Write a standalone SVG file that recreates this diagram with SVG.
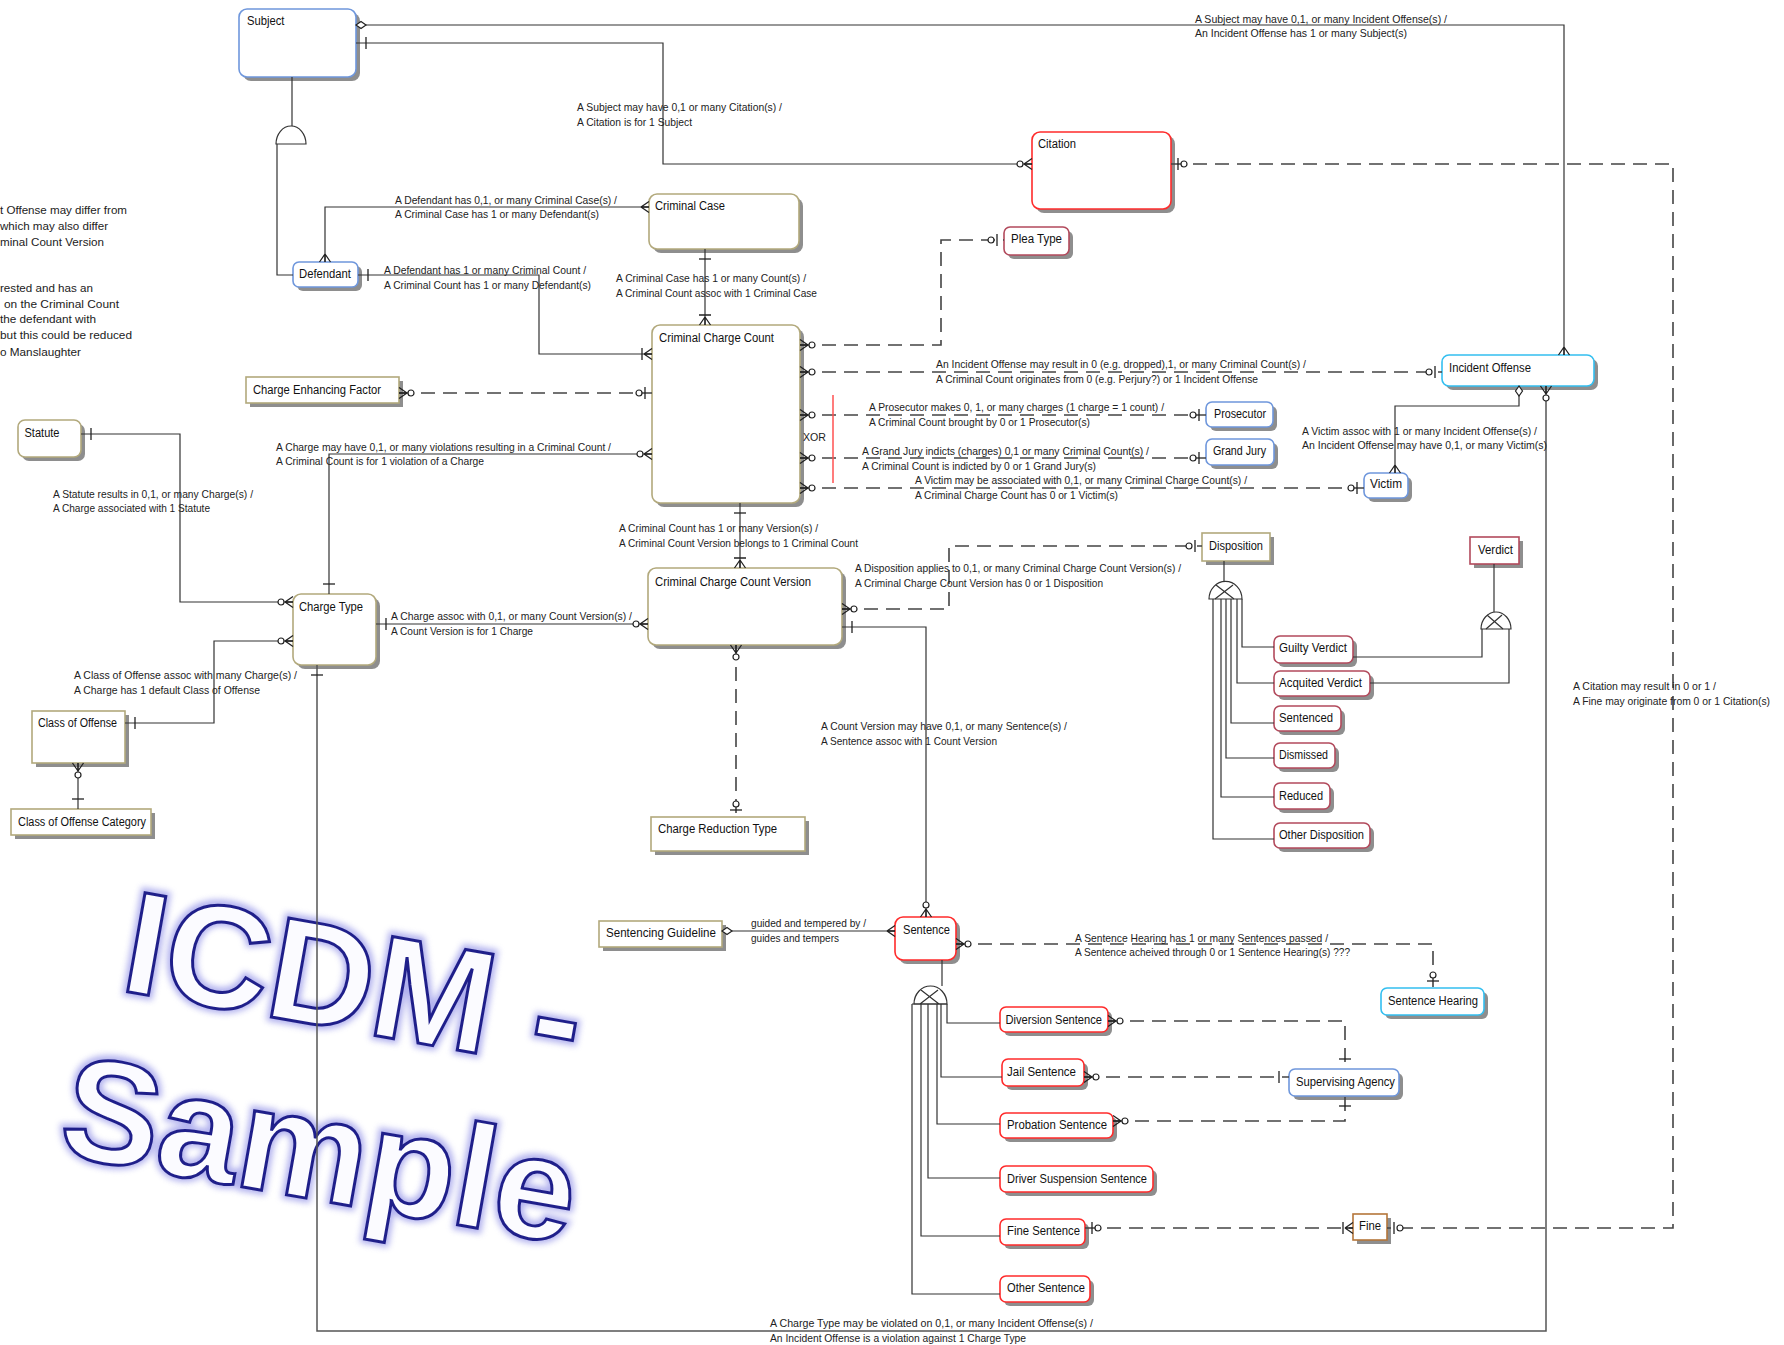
<svg xmlns="http://www.w3.org/2000/svg" width="1784" height="1345" viewBox="0 0 1784 1345">
<style>
.box{fill:#fff;stroke-width:1.6}
.sh{fill:#8e8e8e}
.blue{stroke:#6f97dc}
.cyan{stroke:#33bff0}
.gold{stroke:#b2a97c}
.red{stroke:#ff2b2b}
.maroon{stroke:#b24a5c}
.brown{stroke:#b5763a}
.lbl{font-family:"Liberation Sans",Arial,sans-serif;font-size:12px;fill:#111}
.rel{font-family:"Liberation Sans",Arial,sans-serif;font-size:10.5px;fill:#222}
.note{font-family:"Liberation Sans",Arial,sans-serif;font-size:11.5px;fill:#222}
.ln{fill:none;stroke:#333;stroke-width:1.2}
.gl{fill:none;stroke:#555;stroke-width:1.5}
.dash{fill:none;stroke:#444;stroke-width:1.6;stroke-dasharray:14 8}
.mk{fill:none;stroke:#222;stroke-width:1.3}
.mkc{fill:#fff;stroke:#222;stroke-width:1.2}
.sym{fill:#fff;stroke:#333;stroke-width:1.2}
.wm{font-family:"Liberation Sans",Arial,sans-serif;font-weight:bold;font-size:146px;fill:#fbfbff;stroke:#1f1f8a;stroke-width:3}
.wmg{font-family:"Liberation Sans",Arial,sans-serif;font-weight:bold;font-size:146px;fill:none;stroke:#7070e0;stroke-width:9;opacity:.55}
</style>
<defs>
<filter id="glow" x="-10%" y="-30%" width="120%" height="160%"><feGaussianBlur stdDeviation="3"/></filter>
<marker id="mM0" viewBox="0 0 24 16" refX="20" refY="8" markerWidth="24" markerHeight="16" markerUnits="userSpaceOnUse" orient="auto-start-reverse"><path class="mk" d="M12,8 L20,2.5 M12,8 L20,8 M12,8 L20,13.5"/><circle class="mkc" cx="8" cy="8" r="3"/></marker>
<marker id="mM1" viewBox="0 0 24 16" refX="20" refY="8" markerWidth="24" markerHeight="16" markerUnits="userSpaceOnUse" orient="auto-start-reverse"><path class="mk" d="M12,8 L20,2.5 M12,8 L20,8 M12,8 L20,13.5 M10,2 L10,14"/></marker>
<marker id="mMany" viewBox="0 0 24 16" refX="20" refY="8" markerWidth="24" markerHeight="16" markerUnits="userSpaceOnUse" orient="auto-start-reverse"><path class="mk" d="M12,8 L20,2.5 M12,8 L20,8 M12,8 L20,13.5"/></marker>
<marker id="mOne" viewBox="0 0 24 16" refX="20" refY="8" markerWidth="24" markerHeight="16" markerUnits="userSpaceOnUse" orient="auto-start-reverse"><path class="mk" d="M10,2 L10,14"/></marker>
<marker id="mZO" viewBox="0 0 24 16" refX="20" refY="8" markerWidth="24" markerHeight="16" markerUnits="userSpaceOnUse" orient="auto-start-reverse"><path class="mk" d="M13,2 L13,14"/><circle class="mkc" cx="7" cy="8" r="3"/></marker>
<marker id="mDia" viewBox="0 0 24 16" refX="20" refY="8" markerWidth="24" markerHeight="16" markerUnits="userSpaceOnUse" orient="auto-start-reverse"><path class="mkc" d="M20,8 L15,4.5 L10,8 L15,11.5 Z"/></marker>
</defs>
<rect width="1784" height="1345" fill="#fff"/>

<g id="watermark">
<g transform="translate(118,990) rotate(10)"><text class="wmg" filter="url(#glow)">ICDM -</text><text class="wm">ICDM -</text></g>
<g transform="translate(56,1154) rotate(10)"><text class="wmg" filter="url(#glow)">Sample</text><text class="wm">Sample</text></g>
</g>

<g id="notes">
<text class="note" x="0" y="214" textLength="127" lengthAdjust="spacingAndGlyphs">t Offense may differ from</text>
<text class="note" x="0" y="230" textLength="108" lengthAdjust="spacingAndGlyphs">which may also differ</text>
<text class="note" x="0" y="246" textLength="104" lengthAdjust="spacingAndGlyphs">minal Count Version</text>
<text class="note" x="0" y="292" textLength="93" lengthAdjust="spacingAndGlyphs">rested and has an</text>
<text class="note" x="4" y="308" textLength="115" lengthAdjust="spacingAndGlyphs">on the Criminal Count</text>
<text class="note" x="0" y="323" textLength="96" lengthAdjust="spacingAndGlyphs">the defendant with</text>
<text class="note" x="0" y="339" textLength="132" lengthAdjust="spacingAndGlyphs">but this could be reduced</text>
<text class="note" x="0" y="356" textLength="81" lengthAdjust="spacingAndGlyphs">o Manslaughter</text>
</g>

<g id="subject"><rect class="sh" x="243" y="13" width="117" height="68" rx="8"/><rect class="box blue" x="239" y="9" width="117" height="68" rx="8"/><text class="lbl" x="247" y="25" textLength="37.5" lengthAdjust="spacingAndGlyphs">Subject</text></g>
<g id="defendant"><rect class="sh" x="297" y="266" width="65" height="25" rx="6"/><rect class="box blue" x="293" y="262" width="65" height="25" rx="6"/><text class="lbl" x="299" y="278" textLength="52" lengthAdjust="spacingAndGlyphs">Defendant</text></g>
<g id="criminal-case"><rect class="sh" x="653" y="198" width="150" height="55" rx="8"/><rect class="box gold" x="649" y="194" width="150" height="55" rx="8"/><text class="lbl" x="655" y="210" textLength="70" lengthAdjust="spacingAndGlyphs">Criminal Case</text></g>
<g id="citation"><rect class="sh" x="1036" y="136" width="139" height="77" rx="8"/><rect class="box red" x="1032" y="132" width="139" height="77" rx="8"/><text class="lbl" x="1038" y="148" textLength="38" lengthAdjust="spacingAndGlyphs">Citation</text></g>
<g id="plea-type"><rect class="sh" x="1008" y="231" width="65" height="28" rx="6"/><rect class="box maroon" x="1004" y="227" width="65" height="28" rx="6"/><text class="lbl" x="1011" y="243" textLength="51" lengthAdjust="spacingAndGlyphs">Plea Type</text></g>
<g id="criminal-charge-count"><rect class="sh" x="656" y="329" width="148" height="178" rx="8"/><rect class="box gold" x="652" y="325" width="148" height="178" rx="8"/><text class="lbl" x="659" y="342" textLength="115" lengthAdjust="spacingAndGlyphs">Criminal Charge Count</text></g>
<g id="incident-offense"><rect class="sh" x="1446" y="359" width="152" height="31" rx="7"/><rect class="box cyan" x="1442" y="355" width="152" height="31" rx="7"/><text class="lbl" x="1449" y="372" textLength="82" lengthAdjust="spacingAndGlyphs">Incident Offense</text></g>
<g id="prosecutor"><rect class="sh" x="1210" y="406" width="67" height="25" rx="6"/><rect class="box blue" x="1206" y="402" width="67" height="25" rx="6"/><text class="lbl" x="1214" y="418" textLength="52" lengthAdjust="spacingAndGlyphs">Prosecutor</text></g>
<g id="grand-jury"><rect class="sh" x="1210" y="443" width="68" height="26" rx="6"/><rect class="box blue" x="1206" y="439" width="68" height="26" rx="6"/><text class="lbl" x="1213" y="455" textLength="53" lengthAdjust="spacingAndGlyphs">Grand Jury</text></g>
<g id="victim"><rect class="sh" x="1368" y="477" width="44" height="25" rx="6"/><rect class="box blue" x="1364" y="473" width="44" height="25" rx="6"/><text class="lbl" x="1370" y="488" textLength="32" lengthAdjust="spacingAndGlyphs">Victim</text></g>
<g id="disposition"><rect class="sh" x="1206" y="537" width="68" height="28"/><rect class="box gold" x="1202" y="533" width="68" height="28"/><text class="lbl" x="1209" y="550" textLength="54" lengthAdjust="spacingAndGlyphs">Disposition</text></g>
<g id="verdict"><rect class="sh" x="1474" y="541" width="49" height="27"/><rect class="box maroon" x="1470" y="537" width="49" height="27"/><text class="lbl" x="1478" y="554" textLength="35" lengthAdjust="spacingAndGlyphs">Verdict</text></g>
<g id="guilty-verdict"><rect class="sh" x="1278" y="640" width="79" height="27" rx="6"/><rect class="box maroon" x="1274" y="636" width="79" height="27" rx="6"/><text class="lbl" x="1279" y="652" textLength="68" lengthAdjust="spacingAndGlyphs">Guilty Verdict</text></g>
<g id="acquited-verdict"><rect class="sh" x="1278" y="675" width="96" height="25" rx="6"/><rect class="box maroon" x="1274" y="671" width="96" height="25" rx="6"/><text class="lbl" x="1279" y="687" textLength="83" lengthAdjust="spacingAndGlyphs">Acquited Verdict</text></g>
<g id="sentenced"><rect class="sh" x="1278" y="710" width="67" height="25" rx="6"/><rect class="box maroon" x="1274" y="706" width="67" height="25" rx="6"/><text class="lbl" x="1279" y="722" textLength="54" lengthAdjust="spacingAndGlyphs">Sentenced</text></g>
<g id="dismissed"><rect class="sh" x="1278" y="747" width="61" height="25" rx="6"/><rect class="box maroon" x="1274" y="743" width="61" height="25" rx="6"/><text class="lbl" x="1279" y="759" textLength="49" lengthAdjust="spacingAndGlyphs">Dismissed</text></g>
<g id="reduced"><rect class="sh" x="1278" y="787" width="56" height="26" rx="6"/><rect class="box maroon" x="1274" y="783" width="56" height="26" rx="6"/><text class="lbl" x="1279" y="800" textLength="44" lengthAdjust="spacingAndGlyphs">Reduced</text></g>
<g id="other-disposition"><rect class="sh" x="1278" y="827" width="96" height="25" rx="6"/><rect class="box maroon" x="1274" y="823" width="96" height="25" rx="6"/><text class="lbl" x="1279" y="839" textLength="85" lengthAdjust="spacingAndGlyphs">Other Disposition</text></g>
<g id="charge-enhancing-factor"><rect class="sh" x="250" y="381" width="153" height="26"/><rect class="box gold" x="246" y="377" width="153" height="26"/><text class="lbl" x="253" y="394" textLength="128" lengthAdjust="spacingAndGlyphs">Charge Enhancing Factor</text></g>
<g id="statute"><rect class="sh" x="22" y="424" width="63" height="37" rx="7"/><rect class="box gold" x="18" y="420" width="63" height="37" rx="7"/><text class="lbl" x="24.5" y="437" textLength="35" lengthAdjust="spacingAndGlyphs">Statute</text></g>
<g id="charge-type"><rect class="sh" x="297" y="598" width="83" height="71" rx="8"/><rect class="box gold" x="293" y="594" width="83" height="71" rx="8"/><text class="lbl" x="299" y="611" textLength="64" lengthAdjust="spacingAndGlyphs">Charge Type</text></g>
<g id="class-of-offense"><rect class="sh" x="36" y="715" width="93" height="52"/><rect class="box gold" x="32" y="711" width="93" height="52"/><text class="lbl" x="38" y="727" textLength="79" lengthAdjust="spacingAndGlyphs">Class of Offense</text></g>
<g id="class-of-offense-category"><rect class="sh" x="15" y="813" width="140" height="26"/><rect class="box gold" x="11" y="809" width="140" height="26"/><text class="lbl" x="18" y="826" textLength="128" lengthAdjust="spacingAndGlyphs">Class of Offense Category</text></g>
<g id="criminal-charge-count-version"><rect class="sh" x="652" y="572" width="194" height="77" rx="8"/><rect class="box gold" x="648" y="568" width="194" height="77" rx="8"/><text class="lbl" x="655" y="586" textLength="156" lengthAdjust="spacingAndGlyphs">Criminal Charge Count Version</text></g>
<g id="charge-reduction-type"><rect class="sh" x="655" y="821" width="154" height="34"/><rect class="box gold" x="651" y="817" width="154" height="34"/><text class="lbl" x="658" y="833" textLength="119" lengthAdjust="spacingAndGlyphs">Charge Reduction Type</text></g>
<g id="sentencing-guideline"><rect class="sh" x="603" y="925" width="123" height="26"/><rect class="box gold" x="599" y="921" width="123" height="26"/><text class="lbl" x="606" y="937" textLength="110" lengthAdjust="spacingAndGlyphs">Sentencing Guideline</text></g>
<g id="sentence"><rect class="sh" x="899" y="921" width="61" height="43" rx="8"/><rect class="box red" x="895" y="917" width="61" height="43" rx="8"/><text class="lbl" x="903" y="934" textLength="47" lengthAdjust="spacingAndGlyphs">Sentence</text></g>
<g id="sentence-hearing"><rect class="sh" x="1385" y="992" width="103" height="27" rx="6"/><rect class="box cyan" x="1381" y="988" width="103" height="27" rx="6"/><text class="lbl" x="1388" y="1005" textLength="90" lengthAdjust="spacingAndGlyphs">Sentence Hearing</text></g>
<g id="diversion-sentence"><rect class="sh" x="1004" y="1011" width="108" height="25" rx="6"/><rect class="box red" x="1000" y="1007" width="108" height="25" rx="6"/><text class="lbl" x="1005.5" y="1024" textLength="96.5" lengthAdjust="spacingAndGlyphs">Diversion Sentence</text></g>
<g id="jail-sentence"><rect class="sh" x="1006" y="1063" width="82" height="27" rx="6"/><rect class="box red" x="1002" y="1059" width="82" height="27" rx="6"/><text class="lbl" x="1007" y="1076" textLength="69" lengthAdjust="spacingAndGlyphs">Jail Sentence</text></g>
<g id="probation-sentence"><rect class="sh" x="1004" y="1117" width="113" height="25" rx="6"/><rect class="box red" x="1000" y="1113" width="113" height="25" rx="6"/><text class="lbl" x="1007" y="1129" textLength="100" lengthAdjust="spacingAndGlyphs">Probation Sentence</text></g>
<g id="driver-suspension-sentence"><rect class="sh" x="1004" y="1170" width="153" height="26" rx="6"/><rect class="box red" x="1000" y="1166" width="153" height="26" rx="6"/><text class="lbl" x="1007" y="1183" textLength="140" lengthAdjust="spacingAndGlyphs">Driver Suspension Sentence</text></g>
<g id="fine-sentence"><rect class="sh" x="1004" y="1223" width="85" height="26" rx="6"/><rect class="box red" x="1000" y="1219" width="85" height="26" rx="6"/><text class="lbl" x="1007" y="1235" textLength="73" lengthAdjust="spacingAndGlyphs">Fine Sentence</text></g>
<g id="other-sentence"><rect class="sh" x="1004" y="1280" width="90" height="26" rx="6"/><rect class="box red" x="1000" y="1276" width="90" height="26" rx="6"/><text class="lbl" x="1007" y="1292" textLength="78" lengthAdjust="spacingAndGlyphs">Other Sentence</text></g>
<g id="supervising-agency"><rect class="sh" x="1293" y="1073" width="110" height="27" rx="6"/><rect class="box blue" x="1289" y="1069" width="110" height="27" rx="6"/><text class="lbl" x="1296" y="1086" textLength="99" lengthAdjust="spacingAndGlyphs">Supervising Agency</text></g>
<g id="fine"><rect class="sh" x="1357" y="1218" width="34" height="26"/><rect class="box brown" x="1353" y="1214" width="34" height="26"/><text class="lbl" x="1359" y="1230" textLength="22" lengthAdjust="spacingAndGlyphs">Fine</text></g>

<g id="connectors">
<path class="ln" d="M356,25 H1564 V355" marker-start="url(#mDia)" marker-end="url(#mMany)"/>
<path class="ln" d="M356,43 H663 V164 H1032" marker-start="url(#mOne)" marker-end="url(#mM0)"/>
<path class="dash" d="M1171,164 H1673 V1228 H1387" marker-start="url(#mZO)" marker-end="url(#mZO)"/>
<path class="ln" d="M325,262 V207 H649" marker-start="url(#mMany)" marker-end="url(#mMany)"/>
<path class="ln" d="M358,275 H539 V354 H652" marker-start="url(#mOne)" marker-end="url(#mM1)"/>
<path class="ln" d="M705,249 V325" marker-start="url(#mOne)" marker-end="url(#mM1)"/>
<path class="dash" d="M800,345 H941 V240 H1004" marker-start="url(#mM0)" marker-end="url(#mZO)"/>
<path class="dash" d="M800,372 H1442" marker-start="url(#mM0)" marker-end="url(#mZO)"/>
<path class="dash" d="M800,415 H1206" marker-start="url(#mM0)" marker-end="url(#mZO)"/>
<path class="dash" d="M800,458 H1206" marker-start="url(#mM0)" marker-end="url(#mZO)"/>
<path class="dash" d="M800,488 H1364" marker-start="url(#mM0)" marker-end="url(#mZO)"/>
<path d="M833,395 V483" fill="none" stroke="#ff5050" stroke-width="1.5"/>
<text class="rel" x="803" y="441" textLength="23" lengthAdjust="spacingAndGlyphs">XOR</text>
<path class="ln" d="M1519,386 V406 H1395 V473" marker-start="url(#mDia)" marker-end="url(#mMany)"/>
<path class="gl" d="M1546,386 V1331 H317 V665" marker-start="url(#mM0)" marker-end="url(#mOne)"/>
<path class="dash" d="M399,393 H652" marker-start="url(#mM0)" marker-end="url(#mZO)"/>
<path class="ln" d="M81,434 H180 V602 H293" marker-start="url(#mOne)" marker-end="url(#mM0)"/>
<path class="ln" d="M125,723 H214 V641 H293" marker-start="url(#mOne)" marker-end="url(#mM0)"/>
<path class="ln" d="M78,763 V809" marker-start="url(#mM0)" marker-end="url(#mOne)"/>
<path class="ln" d="M329,594 V454 H652" marker-start="url(#mOne)" marker-end="url(#mM0)"/>
<path class="ln" d="M376,624 H648" marker-start="url(#mOne)" marker-end="url(#mM0)"/>
<path class="ln" d="M740,503 V568" marker-start="url(#mOne)" marker-end="url(#mM1)"/>
<path class="dash" d="M842,609 H949 V546 H1202" marker-start="url(#mM0)" marker-end="url(#mZO)"/>
<path class="ln" d="M842,627 H926 V917" marker-start="url(#mOne)" marker-end="url(#mM0)"/>
<path class="dash" d="M736,645 V817" marker-start="url(#mM0)" marker-end="url(#mZO)"/>
<path class="ln" d="M722,931 H895" marker-start="url(#mDia)" marker-end="url(#mMany)"/>
<path class="dash" d="M956,944 H1433 V988" marker-start="url(#mM0)" marker-end="url(#mZO)"/>
<path class="dash" d="M1108,1021 H1345 V1069" marker-start="url(#mM0)" marker-end="url(#mOne)"/>
<path class="dash" d="M1084,1077 H1289" marker-start="url(#mM0)" marker-end="url(#mOne)"/>
<path class="dash" d="M1113,1121 H1345 V1096" marker-start="url(#mM0)" marker-end="url(#mOne)"/>
<path class="dash" d="M1085,1228 H1353" marker-start="url(#mZO)" marker-end="url(#mM1)"/>

<path class="ln" d="M292,77 V126"/>
<path class="sym" d="M276,144 A15,18 0 0 1 306,144 Z"/>
<path class="ln" d="M277,144 V275 H293"/>
<path class="ln" d="M1224,561 V582"/>
<path class="sym" d="M1209,599 A16,17 0 0 1 1242,599 Z"/>
<path class="ln" d="M1216,585 L1234,599 M1233,585 L1215,599"/>
<path class="ln" d="M1242,599 V647 H1274 M1237,599 V683 H1274 M1231,599 V723 H1274 M1226,599 V758 H1274 M1221,599 V797 H1274 M1213,599 V839 H1274"/>
<path class="ln" d="M1494,564 V612"/>
<path class="sym" d="M1481,629 A15,17 0 0 1 1511,629 Z"/>
<path class="ln" d="M1487,615 L1503,629 M1502,615 L1486,629"/>
<path class="ln" d="M1482,629 V657 H1353 M1509,629 V683 H1370"/>
<path class="ln" d="M942,960 V986"/>
<path class="sym" d="M914,1004 A16.5,18 0 0 1 947,1004 Z"/>
<path class="ln" d="M912,1004 H947 M921,990 L939,1004 M938,990 L920,1004"/>
<path class="ln" d="M947,1004 V1023 H1000 M941,1004 V1077 H1002 M937,1004 V1124 H1000 M928,1004 V1178 H1000 M921,1004 V1236 H1000 M912,1004 V1294 H1000"/>

<text class="rel" x="1195" y="23" textLength="252" lengthAdjust="spacingAndGlyphs">A Subject may have 0,1, or many Incident Offense(s) /</text>
<text class="rel" x="1195" y="37" textLength="212" lengthAdjust="spacingAndGlyphs">An Incident Offense has 1 or many  Subject(s)</text>
<text class="rel" x="577" y="111" textLength="205" lengthAdjust="spacingAndGlyphs">A Subject may have 0,1 or many Citation(s) /</text>
<text class="rel" x="577" y="126" textLength="115" lengthAdjust="spacingAndGlyphs">A Citation is for 1 Subject</text>
<text class="rel" x="395" y="204" textLength="222" lengthAdjust="spacingAndGlyphs">A Defendant has 0,1, or many Criminal Case(s) /</text>
<text class="rel" x="395" y="218" textLength="204" lengthAdjust="spacingAndGlyphs">A Criminal Case has 1 or many Defendant(s)</text>
<text class="rel" x="384" y="274" textLength="202" lengthAdjust="spacingAndGlyphs">A Defendant has 1 or many Criminal Count /</text>
<text class="rel" x="384" y="289" textLength="207" lengthAdjust="spacingAndGlyphs">A Criminal Count has 1 or many Defendant(s)</text>
<text class="rel" x="616" y="282" textLength="190" lengthAdjust="spacingAndGlyphs">A Criminal Case has 1 or many Count(s) /</text>
<text class="rel" x="616" y="297" textLength="201" lengthAdjust="spacingAndGlyphs">A Criminal Count assoc with 1 Criminal Case</text>
<text class="rel" x="936" y="368" textLength="370" lengthAdjust="spacingAndGlyphs">An Incident Offense may result in 0  (e.g. dropped),1, or many Criminal Count(s) /</text>
<text class="rel" x="936" y="383" textLength="322" lengthAdjust="spacingAndGlyphs">A Criminal Count originates from 0 (e.g. Perjury?) or 1 Incident Offense</text>
<text class="rel" x="869" y="411" textLength="295" lengthAdjust="spacingAndGlyphs">A Prosecutor makes 0, 1, or many charges (1 charge = 1 count) /</text>
<text class="rel" x="869" y="426" textLength="221" lengthAdjust="spacingAndGlyphs">A Criminal Count brought by 0 or 1 Prosecutor(s)</text>
<text class="rel" x="862" y="455" textLength="287" lengthAdjust="spacingAndGlyphs">A Grand Jury indicts (charges)  0,1 or many Criminal Count(s) /</text>
<text class="rel" x="862" y="470" textLength="234" lengthAdjust="spacingAndGlyphs">A Criminal Count is indicted by 0 or 1 Grand Jury(s)</text>
<text class="rel" x="915" y="484" textLength="332" lengthAdjust="spacingAndGlyphs">A Victim may be associated with 0,1, or many Criminal Charge Count(s) /</text>
<text class="rel" x="915" y="499" textLength="203" lengthAdjust="spacingAndGlyphs">A Criminal Charge Count has 0 or 1 Victim(s)</text>
<text class="rel" x="1302" y="435" textLength="235" lengthAdjust="spacingAndGlyphs">A Victim assoc with 1 or many Incident Offense(s) /</text>
<text class="rel" x="1302" y="449" textLength="245" lengthAdjust="spacingAndGlyphs">An Incident Offense may have 0,1, or many Victim(s)</text>
<text class="rel" x="770" y="1327" textLength="323" lengthAdjust="spacingAndGlyphs">A Charge Type may be violated on 0,1, or  many  Incident Offense(s) /</text>
<text class="rel" x="770" y="1342" textLength="256" lengthAdjust="spacingAndGlyphs">An Incident Offense is a violation against 1 Charge Type</text>
<text class="rel" x="53" y="498" textLength="200" lengthAdjust="spacingAndGlyphs">A Statute results in 0,1, or many Charge(s) /</text>
<text class="rel" x="53" y="512" textLength="157" lengthAdjust="spacingAndGlyphs">A Charge associated with 1 Statute</text>
<text class="rel" x="74" y="679" textLength="223" lengthAdjust="spacingAndGlyphs">A Class of Offense assoc with many Charge(s) /</text>
<text class="rel" x="74" y="694" textLength="186" lengthAdjust="spacingAndGlyphs">A Charge has 1 default Class of Offense</text>
<text class="rel" x="276" y="451" textLength="335" lengthAdjust="spacingAndGlyphs">A Charge may have 0,1, or many violations resulting in a Criminal Count /</text>
<text class="rel" x="276" y="465" textLength="208" lengthAdjust="spacingAndGlyphs">A Criminal Count is for 1 violation of a Charge</text>
<text class="rel" x="391" y="620" textLength="241" lengthAdjust="spacingAndGlyphs">A Charge assoc with  0,1, or many Count Version(s) /</text>
<text class="rel" x="391" y="635" textLength="142" lengthAdjust="spacingAndGlyphs">A Count Version is for 1 Charge</text>
<text class="rel" x="619" y="532" textLength="199" lengthAdjust="spacingAndGlyphs">A Criminal Count has 1 or many Version(s) /</text>
<text class="rel" x="619" y="547" textLength="239" lengthAdjust="spacingAndGlyphs">A Criminal Count Version belongs to 1 Criminal Count</text>
<text class="rel" x="855" y="572" textLength="326" lengthAdjust="spacingAndGlyphs">A Disposition applies to 0,1, or many Criminal Charge Count Version(s) /</text>
<text class="rel" x="855" y="587" textLength="248" lengthAdjust="spacingAndGlyphs">A Criminal Charge Count Version has 0 or 1 Disposition</text>
<text class="rel" x="821" y="730" textLength="246" lengthAdjust="spacingAndGlyphs">A Count Version may have 0,1, or many Sentence(s) /</text>
<text class="rel" x="821" y="745" textLength="176" lengthAdjust="spacingAndGlyphs">A Sentence assoc with 1 Count Version</text>
<text class="rel" x="751" y="927" textLength="115" lengthAdjust="spacingAndGlyphs">guided and tempered by /</text>
<text class="rel" x="751" y="942" textLength="88" lengthAdjust="spacingAndGlyphs">guides and tempers</text>
<text class="rel" x="1075" y="942" textLength="253" lengthAdjust="spacingAndGlyphs">A Sentence Hearing has 1 or many  Sentences passed /</text>
<text class="rel" x="1075" y="956" textLength="275" lengthAdjust="spacingAndGlyphs">A Sentence acheived through 0 or 1 Sentence Hearing(s) ???</text>
<text class="rel" x="1573" y="690" textLength="143" lengthAdjust="spacingAndGlyphs">A Citation may result in 0 or 1 /</text>
<text class="rel" x="1573" y="705" textLength="197" lengthAdjust="spacingAndGlyphs">A Fine may originate from 0 or 1 Citation(s)</text>
</g>
</svg>
